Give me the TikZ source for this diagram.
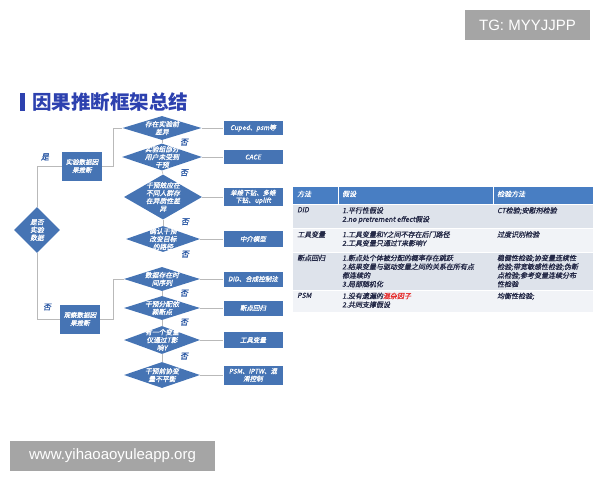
\documentclass[tikz,border=0pt]{standalone}
\usepackage{fontspec}
\setmainfont{Noto Sans CJK SC}
\newfontfamily\cjkslant[FakeSlant=0.2, FakeBold=0.8]{Noto Sans CJK SC}
\newfontfamily\wmfont{Liberation Sans}
\usetikzlibrary{shapes.geometric, positioning, calc}
\definecolor{flowblue}{RGB}{70,116,180}
\definecolor{titleblue}{RGB}{45,65,175}
\definecolor{linegray}{RGB}{185,185,185}
\definecolor{labelblue}{RGB}{45,90,165}
\definecolor{headblue}{RGB}{72,126,195}
\definecolor{rowdark}{RGB}{222,227,235}
\definecolor{rowlight}{RGB}{241,243,247}
\definecolor{cellink}{RGB}{35,40,70}
\definecolor{markred}{RGB}{230,45,45}
\definecolor{wmgray}{RGB}{165,165,165}
\tikzset{
  decide/.style  = {diamond, fill=flowblue, inner sep=0pt},
  dtext/.style   = {text=white, inner sep=0pt, align=center,
                    font=\cjkslant\fontsize{6.8}{7.8}\selectfont},
  srcbox/.style  = {rectangle, fill=flowblue, text=white, minimum width=40pt,
                    minimum height=29pt, inner sep=1pt, align=center,
                    font=\cjkslant\fontsize{6.5}{8}\selectfont},
  resbox/.style  = {rectangle, fill=flowblue, text=white, minimum width=59pt,
                    inner sep=1.5pt, align=center, font=\cjkslant\fontsize{6.5}{7.5}\selectfont},
  link/.style    = {draw=linegray, line width=0.6pt},
  answer/.style  = {text=labelblue, inner sep=0pt, font=\cjkslant\fontsize{8}{8}\selectfont},
  cell/.style    = {anchor=north west, inner sep=0pt, align=left, text=cellink,
                    font=\cjkslant\fontsize{7}{8.7}\selectfont},
  headcell/.style= {anchor=north west, inner sep=0pt, text=white,
                    font=\cjkslant\fontsize{7}{8.7}\selectfont},
  wmark/.style   = {fill=wmgray, text=white, inner sep=0pt,
                    font=\wmfont\fontsize{15}{15}\selectfont},
}

\begin{document}
\begin{tikzpicture}[x=1pt, y=-1pt]
  \useasboundingbox (0,0) rectangle (600,480);

  % title
  \fill[titleblue] (20,93) rectangle (25,111);
  \node[anchor=west, inner sep=0pt, text=titleblue,
        font=\bfseries\fontsize{19.5}{22}\selectfont] (title) at (32,102) {因果推断框架总结};

  % first decision
  \node[decide, minimum width=46pt, minimum height=46pt,
        label={[dtext]center:是否\\实验\\数据}] (start) at (37,230) {};
  \node[srcbox] (expbox) at (82,166) {实验数据因\\果推断};
  \node[srcbox] (obsbox) at (80,319) {观察数据因\\果推断};
  \draw[link] (start.north) |- (expbox.west);
  \draw[link] (start.south) |- (obsbox.west);
  \node[answer] (yes) at (45,157) {是};
  \node[answer] (no) at (47,307) {否};

  % experimental data
  \node[decide, minimum width=79pt, minimum height=24pt,
        label={[dtext]center:存在实验前\\差异}] (e1) at (162,128) {};
  \node[decide, minimum width=80pt, minimum height=27pt,
        label={[dtext]center:实验组部分\\用户未受到\\干预}] (e2) at (162,157) {};
  \node[decide, minimum width=78pt, minimum height=45pt,
        label={[dtext]center:干预效应在\\不同人群存\\在异质性差\\异}] (e3) at (163,197) {};
  \node[decide, minimum width=74pt, minimum height=26pt,
        label={[dtext]center:确认干预\\改变目标\\的路径}] (e4) at (163,239) {};

  \node[resbox, minimum height=14pt] (c1) at (253,128) {Cuped、psm等};
  \node[resbox, minimum height=14pt] (c2) at (253,157) {CACE};
  \node[resbox, minimum height=18pt] (c3) at (253,197) {单维下钻、多维\\下钻、uplift};
  \node[resbox, minimum height=16pt] (c4) at (253,239) {中介模型};

  \draw[link] (expbox.east) -- ++(11,0) |- (e1.west);
  \foreach \d/\r in {e1/c1, e2/c2, e3/c3, e4/c4}
    \draw[link] (\d.east) -- (\r.west);
  \draw[link] (e1.south) -- (e2.north);
  \draw[link] (e2.south) -- (e3.north);
  \draw[link] (e3.south) -- (e4.north);
  \foreach \d in {e1, e2, e3, e4}
    \node[answer] (no-\d) at ($(\d.south)+(22,2)$) {否};

  % observational data
  \node[decide, minimum width=76pt, minimum height=24pt,
        label={[dtext]center:数据存在时\\间序列}] (o1) at (162,279) {};
  \node[decide, minimum width=76pt, minimum height=24pt,
        label={[dtext]center:干预分配依\\赖断点}] (o2) at (162,308) {};
  \node[decide, minimum width=76pt, minimum height=28pt,
        label={[dtext]center:有一个变量\\仅通过T影\\响Y}] (o3) at (162,340) {};
  \node[decide, minimum width=76pt, minimum height=26pt,
        label={[dtext]center:干预前协变\\量不平衡}] (o4) at (162,375) {};

  \node[resbox, minimum height=15pt] (r1) at (253,279) {DID、合成控制法};
  \node[resbox, minimum height=15pt] (r2) at (253,308) {断点回归};
  \node[resbox, minimum height=16pt] (r3) at (253,340) {工具变量};
  \node[resbox, minimum height=19pt] (r4) at (253,375) {PSM、IPTW、混\\淆控制};

  \draw[link] (obsbox.east) -- ++(13,0) |- (o1.west);
  \foreach \d/\r in {o1/r1, o2/r2, o3/r3, o4/r4}
    \draw[link] (\d.east) -- (\r.west);
  \draw[link] (o1.south) -- (o2.north);
  \draw[link] (o2.south) -- (o3.north);
  \draw[link] (o3.south) -- (o4.north);
  \foreach \d in {o1, o2, o3}
    \node[answer] (no-\d) at ($(\d.south)+(22,2)$) {否};

  % table
  \fill[headblue] (293,187) rectangle (593,204);
  \foreach \yt/\yb/\shade in {204/228/rowdark, 228/252/rowlight, 252/290/rowdark, 290/312/rowlight}
    \fill[\shade] (293,\yt) rectangle (593,\yb);
  \draw[white, line width=0.8pt] (338,187) -- (338,204) (493,187) -- (493,204);
  \foreach \yl in {204, 228, 252, 290}
    \draw[white, line width=0.8pt] (293,\yl) -- (593,\yl);

  \node[headcell] (h-method) at (297,190.5) {方法};
  \node[headcell] (h-assume) at (342,190.5) {假设};
  \node[headcell] (h-check)  at (497,190.5) {检验方法};

  \node[cell] (m-did) at (297,207) {DID};
  \node[cell] (a-did) at (342,207) {1.平行性假设\\2.no pretrement effect假设};
  \node[cell] (k-did) at (497,207) {CT检验;安慰剂检验};

  \node[cell] (m-iv) at (297,231) {工具变量};
  \node[cell] (a-iv) at (342,231) {1.工具变量和Y之间不存在后门路径\\2.工具变量只通过T来影响Y};
  \node[cell] (k-iv) at (497,231) {过度识别检验};

  \node[cell] (m-rd) at (297,254.5) {断点回归};
  \node[cell] (a-rd) at (342,254.5) {1.断点处个体被分配的概率存在跳跃\\2.结果变量与驱动变量之间的关系在所有点\\都连续的\\3.局部随机化};
  \node[cell] (k-rd) at (497,254.5) {稳健性检验;协变量连续性\\检验;带宽敏感性检验;伪断\\点检验;参考变量连续分布\\性检验};

  \node[cell] (m-psm) at (297,292.5) {PSM};
  \node[cell] (a-psm) at (342,292.5) {1.没有遗漏的\textcolor{markred}{混杂因子}\\2.共同支撑假设};
  \node[cell] (k-psm) at (497,292.5) {均衡性检验;};

  % watermarks
  \node[wmark, minimum width=125pt, minimum height=30pt] (tg) at (527.5,25) {TG: MYYJJPP};
  \node[wmark, minimum width=205pt, minimum height=30pt] (site) at (112.5,455.5) {www.yihaoaoyuleapp.org};
\end{tikzpicture}
\end{document}
